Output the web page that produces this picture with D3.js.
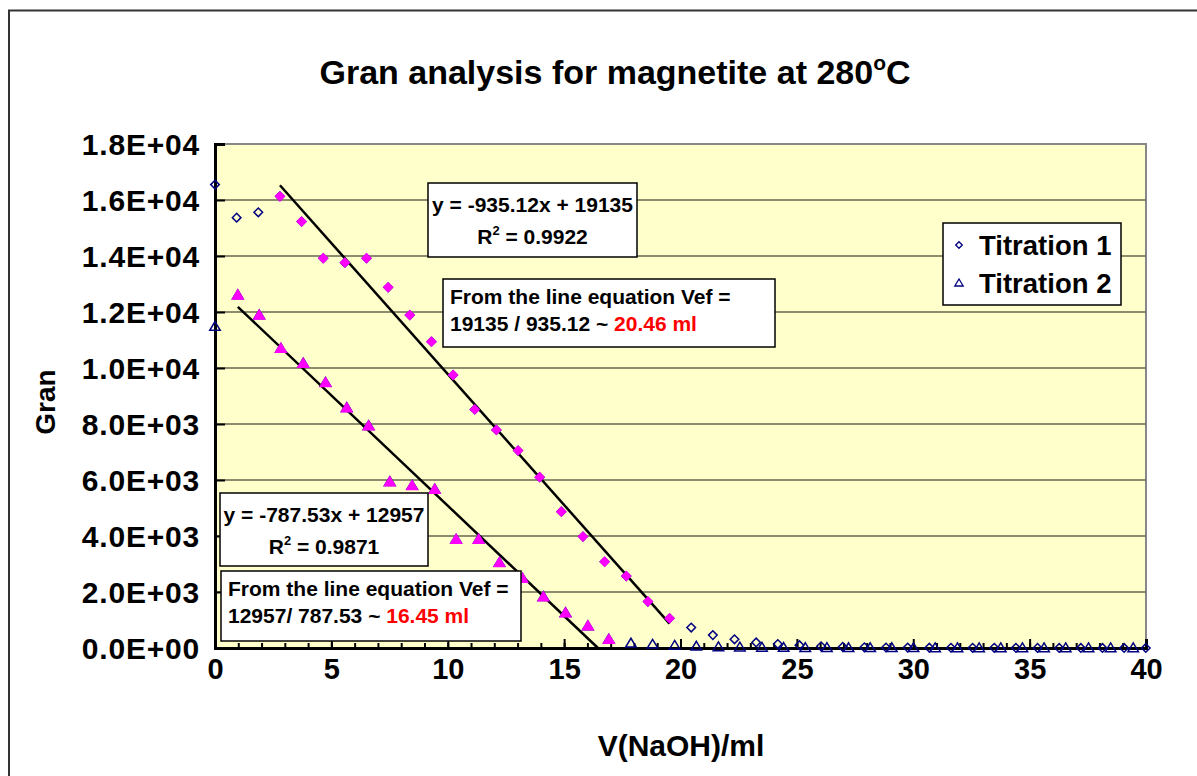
<!DOCTYPE html>
<html>
<head>
<meta charset="utf-8">
<script src="https://cdn.jsdelivr.net/npm/d3@7/dist/d3.min.js"></script>
<style>
  html, body { margin: 0; padding: 0; background: #fff; }
  svg { display: block; font-family: "Liberation Sans", Arial, sans-serif; }
</style>
</head>
<body>
<svg id="chart" width="1197" height="776"></svg>
<script>
// ---------- DATA ----------
const t1X = [0, 0.93, 1.86, 2.79, 3.72, 4.65, 5.58, 6.51, 7.44, 8.37, 9.3, 10.23, 11.16, 12.09, 13.02, 13.95, 14.88, 15.81, 16.74, 17.67, 18.6, 19.53, 20.46, 21.39, 22.32, 23.25, 24.18, 25.11, 26.04, 26.97, 27.9, 28.83, 29.76, 30.69, 31.62, 32.55, 33.48, 34.41, 35.34, 36.27, 37.2, 38.13, 39.06, 39.99];
const t1Y = [16550, 15370, 15560, 16130, 15230, 13920, 13760, 13920, 12880, 11890, 10940, 9750, 8520, 7790, 7050, 6100, 4870, 3980, 3080, 2570, 1660, 1060, 730, 460, 310, 200, 140, 100, 60, 40, 25, 18, 14, 11, 9, 7, 6, 5, 4, 3, 3, 2, 2, 1];
const fit1X = [2.79, 3.72, 4.65, 5.58, 6.51, 7.44, 8.37, 9.3, 10.23, 11.16, 12.09, 13.02, 13.95, 14.88, 15.81, 16.74, 17.67, 18.6, 19.53];
const fit1Y = [16130, 15230, 13920, 13760, 13920, 12880, 11890, 10940, 9750, 8520, 7790, 7050, 6100, 4870, 3980, 3080, 2570, 1660, 1060];

const t2X = [0, 0.98, 1.9, 2.83, 3.79, 4.75, 5.66, 6.6, 7.51, 8.47, 9.44, 10.36, 11.33, 12.22, 13.21, 14.11, 15.06, 16.02, 16.92, 17.87, 18.8, 19.75, 20.68, 21.63, 22.55, 23.5, 24.43, 25.36, 26.29, 27.22, 28.15, 29.08, 30.01, 30.94, 31.9, 32.83, 33.76, 34.69, 35.62, 36.55, 37.53, 38.48, 39.45];
const t2Y = [11480, 12610, 11890, 10700, 10170, 9480, 8580, 7940, 5940, 5800, 5670, 3880, 3880, 3050, 2490, 1830, 1260, 790, 310, 170, 130, 90, 60, 40, 30, 22, 17, 13, 10, 8, 7, 6, 5, 4, 4, 3, 3, 2, 2, 2, 1, 1, 1];
const fit2X = [0.98, 1.9, 2.83, 3.79, 4.75, 5.66, 6.6, 7.51, 8.47, 9.44, 10.36, 11.33, 12.22, 13.21, 14.11, 15.06, 16.02, 16.92];
const fit2Y = [12610, 11890, 10700, 10170, 9480, 8580, 7940, 5940, 5800, 5670, 3880, 3880, 3050, 2490, 1830, 1260, 790, 310];

// trend lines: slope, intercept, x range
const trend1 = { slope: -935.12, intercept: 19135, x0: 2.79, x1: 19.53 };
const trend2 = { slope: -787.53, intercept: 12957, x0: 0.98, x1: 16.92 };

const xTicks = [0, 5, 10, 15, 20, 25, 30, 35, 40];
const xMinorTicks = [0, 1, 2, 3, 4, 5, 6, 7, 8, 9, 10, 11, 12, 13, 14, 15, 16, 17, 18, 19, 20, 21, 22, 23, 24, 25, 26, 27, 28, 29, 30, 31, 32, 33, 34, 35, 36, 37, 38, 39, 40];
const yTicks = [0, 2000, 4000, 6000, 8000, 10000, 12000, 14000, 16000, 18000];
const yTickLabels = ["0.0E+00", "2.0E+03", "4.0E+03", "6.0E+03", "8.0E+03", "1.0E+04", "1.2E+04", "1.4E+04", "1.6E+04", "1.8E+04"];
const seriesNames = ["Titration 1", "Titration 2"];

// ---------- LAYOUT ----------
const svg = d3.select("#chart");
const L = 215, R = 1146, T = 144, B = 648;
const x = d3.scaleLinear().domain([0, 40]).range([L, R]);
const y = d3.scaleLinear().domain([0, 18000]).range([B, T]);
const navy = "#000080", mag = "#FF00FF";
const FF = '"Liberation Sans", Arial, sans-serif';

// outer chart border
svg.append("path").attr("d", "M9,780 L9,10.5 L1200,10.5")
  .attr("fill", "none").attr("stroke", "#333").attr("stroke-width", 2);

// plot area
svg.append("rect").attr("x", L).attr("y", T).attr("width", R - L).attr("height", B - T)
  .attr("fill", "#FFFFCC").attr("stroke", "#888").attr("stroke-width", 2);

// gridlines
svg.append("g").selectAll("line").data(yTicks.filter(d => d > 0 && d < 18000)).join("line")
  .attr("x1", L).attr("x2", R).attr("y1", d => y(d)).attr("y2", d => y(d))
  .attr("stroke", "#66664f").attr("stroke-width", 1.3);

// axes
const gx = svg.append("g").attr("transform", `translate(0,${B})`)
  .call(d3.axisBottom(x).tickValues(xTicks).tickSize(-9).tickPadding(10).tickFormat(d3.format("d")));
const gxm = svg.append("g").attr("transform", `translate(0,${B})`)
  .call(d3.axisBottom(x).tickValues(xMinorTicks).tickSize(-5).tickFormat(""));
const gy = svg.append("g").attr("transform", `translate(${L},0)`)
  .call(d3.axisLeft(y).tickValues(yTicks).tickSize(-10).tickPadding(15).tickFormat((d, i) => yTickLabels[i]));
[gx, gxm, gy].forEach(g => {
  g.select(".domain").attr("stroke", "#000").attr("stroke-width", 3);
  g.selectAll(".tick line").attr("stroke", "#000").attr("stroke-width", 2);
  g.selectAll("text").attr("fill", "#000");
});
gx.selectAll("text").style("font", `bold 29px ${FF}`).attr("dy", "0.72em");
gy.selectAll("text").style("font", `bold 30px ${FF}`).style("letter-spacing", "0.8px").attr("dy", "0.36em");
gxm.select(".domain").remove();

// trend lines
[trend1, trend2].forEach(t => {
  let xe = t.x1;
  const yAt = v => t.slope * v + t.intercept;
  if (yAt(xe) < 0) xe = -t.intercept / t.slope;
  svg.append("line")
    .attr("x1", x(t.x0)).attr("y1", y(yAt(t.x0)))
    .attr("x2", x(xe)).attr("y2", y(yAt(xe)))
    .attr("stroke", "#000").attr("stroke-width", 2.5);
});

// markers
const diamond = s => `M0,${-s} L${s},0 L0,${s} L${-s},0 Z`;
const triangle = s => `M0,${-s} L${s * 1.05},${s * 0.75} L${-s * 1.05},${s * 0.75} Z`;
const pts = (xs, ys) => xs.map((v, i) => [v, ys[i]]);

svg.append("g").selectAll("path").data(pts(t1X, t1Y)).join("path")
  .attr("transform", d => `translate(${x(d[0])},${y(d[1])})`)
  .attr("d", diamond(4.3)).attr("fill", "none").attr("stroke", navy).attr("stroke-width", 1.5);
svg.append("g").selectAll("path").data(pts(t2X, t2Y)).join("path")
  .attr("transform", d => `translate(${x(d[0])},${y(d[1])})`)
  .attr("d", triangle(5)).attr("fill", "none").attr("stroke", navy).attr("stroke-width", 1.5);
svg.append("g").selectAll("path").data(pts(fit1X, fit1Y)).join("path")
  .attr("transform", d => `translate(${x(d[0])},${y(d[1])})`)
  .attr("d", diamond(5.4)).attr("fill", mag);
svg.append("g").selectAll("path").data(pts(fit2X, fit2Y)).join("path")
  .attr("transform", d => `translate(${x(d[0])},${y(d[1])})`)
  .attr("d", triangle(6.3)).attr("fill", mag);

// annotation boxes
function box(x0, y0, w, h) {
  svg.append("rect").attr("x", x0).attr("y", y0).attr("width", w).attr("height", h)
    .attr("fill", "#fff").attr("stroke", "#000").attr("stroke-width", 1.5);
}
const annFont = `bold 21px ${FF}`;
function eqBox(x0, y0, w, h, eq, r2) {
  box(x0, y0, w, h);
  const cx = x0 + w / 2;
  svg.append("text").attr("x", cx).attr("y", y0 + 29).attr("text-anchor", "middle")
    .style("font", annFont).text(eq);
  const t = svg.append("text").attr("x", cx).attr("y", y0 + 61).attr("text-anchor", "middle")
    .style("font", annFont);
  t.append("tspan").text("R");
  t.append("tspan").attr("dy", -9).style("font-size", "13px").text("2");
  t.append("tspan").attr("dy", 9).text(" = " + r2);
}
function vefBox(x0, y0, w, h, line2, val) {
  box(x0, y0, w, h);
  svg.append("text").attr("x", x0 + 7).attr("y", y0 + 25).style("font", annFont)
    .text("From the line equation Vef =");
  const t = svg.append("text").attr("x", x0 + 7).attr("y", y0 + 52).style("font", annFont);
  t.append("tspan").text(line2);
  t.append("tspan").attr("fill", "#FF0000").text(val);
}
eqBox(428, 183, 209, 74, "y = -935.12x + 19135", "0.9922");
vefBox(443, 279, 332, 68, "19135 / 935.12 ~ ", "20.46 ml");
eqBox(220, 493, 208, 73, "y = -787.53x + 12957", "0.9871");
vefBox(221, 571, 300, 70, "12957/ 787.53 ~ ", "16.45 ml");

// legend
box(943, 223, 178, 82);
const legFont = `bold 27.5px ${FF}`;
seriesNames.forEach((name, i) => {
  const cy = 245 + i * 38;
  svg.append("path").attr("transform", `translate(959,${cy})`)
    .attr("d", i === 0 ? diamond(3.3) : triangle(4)).attr("fill", "none")
    .attr("stroke", navy).attr("stroke-width", 1.3);
  svg.append("text").attr("x", 979).attr("y", cy + 10).style("font", legFont).text(name);
});

// title
const title = svg.append("text").attr("x", 615).attr("y", 84).attr("text-anchor", "middle")
  .style("font", `bold 34px ${FF}`);
title.append("tspan").text("Gran analysis for magnetite at 280");
title.append("tspan").attr("dy", -14).style("font-size", "21px").text("o");
title.append("tspan").attr("dy", 14).text("C");

// axis titles
svg.append("text").attr("x", 681).attr("y", 756).attr("text-anchor", "middle")
  .style("font", `bold 30px ${FF}`).text("V(NaOH)/ml");
svg.append("text").attr("transform", "translate(55,402) rotate(-90)").attr("text-anchor", "middle")
  .style("font", `bold 28px ${FF}`).text("Gran");
</script>
</body>
</html>
